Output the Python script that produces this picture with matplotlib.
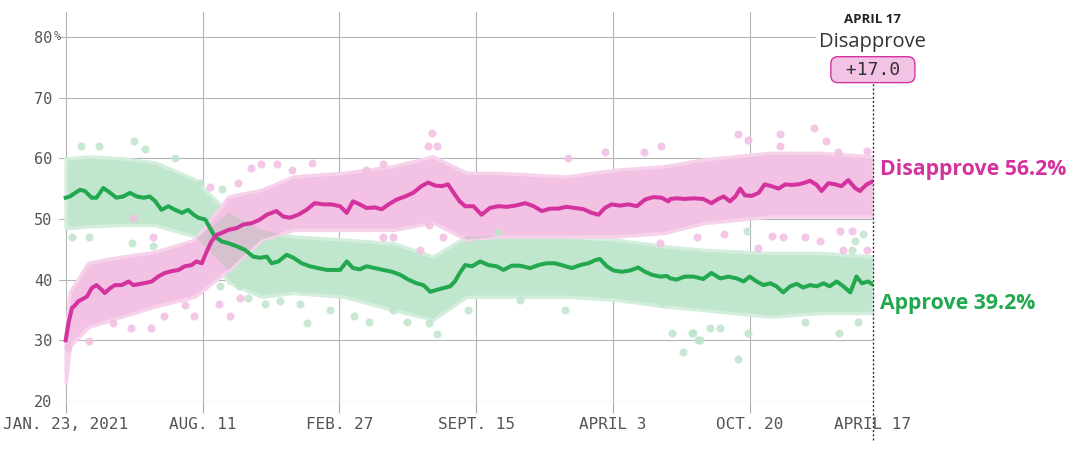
import matplotlib.pyplot as plt
import numpy as np
import pandas as pd

start = pd.Timestamp('2021-01-23')

# trend lines, days since Jan. 23, 2021
dis_day = [0, 4, 9, 14, 18, 23, 31, 38, 45, 53, 57, 65, 72, 82, 92, 99, 109, 118, 126, 135,
           145, 155, 165, 174, 184, 191, 199, 206, 213, 221, 228, 238, 250, 260, 272,
           284, 294, 308, 318, 328, 340, 352, 364, 377, 389, 401, 411, 420, 430, 440, 452,
           462, 472, 484, 496, 508, 520, 530, 540, 550, 559, 569, 576,
           584, 596, 608, 620, 632, 645, 657, 672, 684, 696, 708, 720, 732, 745, 757, 769,
           779, 788, 798, 810, 823, 835, 847, 859, 871, 881,
           884, 893, 905, 918, 932, 944, 954, 962, 971, 979, 986, 993, 1003, 1013, 1022,
           1032, 1042, 1052, 1061, 1071, 1081, 1088, 1098, 1105, 1115, 1125, 1134, 1144,
           1154, 1161, 1171, 1180]
dis_val = [30.0, 32.8, 35.3, 35.8, 36.4, 36.7, 37.2, 38.6, 39.1, 38.3, 37.8, 38.6, 39.1, 39.1,
           39.7, 39.1, 39.3, 39.5, 39.7, 40.5, 41.1, 41.4, 41.6, 42.2, 42.4, 43.0, 42.7, 44.6,
           46.3, 47.4, 47.7, 48.2, 48.5, 49.1, 49.3,
           49.9, 50.7, 51.3, 50.4, 50.2, 50.7, 51.5, 52.6, 52.4, 52.4, 52.1, 51.0, 52.9, 52.4,
           51.8, 51.9, 51.6, 52.4, 53.2, 53.7, 54.3, 55.4, 56.0, 55.5, 55.4, 55.7, 54.0, 52.9,
           52.1, 52.1, 50.7, 51.8, 52.1, 52.0, 52.2, 52.6, 52.1, 51.3, 51.7, 51.7, 52.0, 51.8,
           51.6, 51.0, 50.7, 51.8, 52.4, 52.2, 52.4, 52.1, 53.2, 53.6, 53.5, 52.9,
           53.3, 53.4, 53.3, 53.4, 53.3, 52.6, 53.3, 53.7, 52.9, 53.7, 55.0, 53.9, 53.8, 54.3,
           55.7, 55.4, 55.0, 55.7, 55.6, 55.7, 56.0, 56.3, 55.6, 54.6, 55.9, 55.7, 55.4, 56.4,
           55.1, 54.6, 55.7, 56.2]

app_day = [0, 6, 14, 21, 28, 38, 45, 55, 65, 74, 84, 94, 104, 114, 123, 131, 140, 150, 160,
           170, 179, 187, 194, 204, 211, 218, 228, 238, 250, 262, 274,
           284, 294, 301, 311, 323, 333, 345, 357, 369, 382, 394, 401, 411, 420, 430, 440,
           452, 464, 477, 489, 501, 513, 523, 533, 542, 552, 562, 569, 576,
           584, 594, 606, 618, 630, 640, 652, 664, 679, 691, 703, 715, 728, 740, 752, 764,
           774, 781, 791, 801, 813, 825, 837, 847, 857, 869, 879,
           884, 893, 905, 918, 932, 944, 957, 969, 981, 991, 1000, 1010, 1020, 1030, 1039,
           1049, 1059, 1069, 1078, 1088, 1098, 1108, 1117, 1127, 1137, 1147, 1156, 1164,
           1173, 1180]
app_val = [53.5, 53.7, 54.3, 54.8, 54.6, 53.5, 53.5, 55.1, 54.3, 53.5, 53.7, 54.3, 53.7, 53.5,
           53.7, 52.9, 51.5, 52.1, 51.5, 51.0, 51.5, 50.7, 50.2, 49.9, 48.5, 47.1, 46.3, 46.0,
           45.5, 44.9, 43.8,
           43.6, 43.8, 42.7, 43.0, 44.1, 43.6, 42.7, 42.2, 41.9, 41.6, 41.6, 41.6, 43.0, 41.9,
           41.7, 42.2, 41.9, 41.6, 41.3, 40.8, 40.0, 39.4, 39.1, 38.0, 38.3, 38.6, 38.9, 39.7,
           41.1,
           42.4, 42.2, 43.0, 42.4, 42.2, 41.6, 42.3, 42.3, 41.9, 42.4, 42.7, 42.7, 42.3, 41.9,
           42.4, 42.7, 43.2, 43.4, 42.2, 41.5, 41.3, 41.5, 42.0, 41.3, 40.8, 40.5, 40.6,
           40.2, 40.0, 40.5, 40.5, 40.1, 41.1, 40.2, 40.5, 40.2, 39.7, 40.5, 39.7, 39.1, 39.4,
           38.9, 37.9, 38.9, 39.3, 38.7, 39.1, 38.9, 39.4, 38.9, 39.7, 38.9, 37.9, 40.5, 39.4,
           39.7, 39.2]

# spread of the polls around each line
band_day = [0, 6, 33, 82, 131, 189, 238, 286, 333, 406, 479, 537, 586, 632, 730, 803, 876,
            932, 1030, 1103, 1180]
dis_lo = [23.0, 29.0, 32.2, 33.9, 35.6, 37.2, 41.6, 46.6, 48.2, 48.2, 48.2, 49.4, 46.6, 47.1,
          47.1, 47.1, 47.7, 49.3, 50.4, 50.4, 50.4]
dis_hi = [31.0, 38.0, 42.8, 43.8, 44.6, 46.6, 53.7, 54.8, 57.0, 57.6, 58.7, 60.3, 57.6, 57.6,
          57.0, 58.1, 58.7, 59.8, 60.9, 60.9, 60.3]
app_lo = [48.5, 48.5, 48.8, 49.0, 49.0, 47.1, 39.5, 37.2, 37.8, 37.2, 35.0, 33.4, 37.2, 37.2,
          37.2, 36.7, 35.6, 35.0, 33.9, 34.5, 34.5]
app_hi = [60.0, 60.0, 60.3, 60.0, 59.3, 56.5, 51.0, 48.2, 47.1, 46.6, 46.0, 43.8, 47.1, 47.1,
          47.1, 46.6, 45.5, 44.9, 44.4, 44.4, 43.8]

# individual polls that stand out of the pack
dis_poll_day = [3, 34, 69, 96, 125, 144, 175, 187, 224, 240, 255, 271, 286, 309, 331, 360, 252,
                211, 98, 127, 177, 536, 530, 543, 464, 439, 735, 789, 846, 870, 531, 552, 518,
                479, 464, 869, 923, 1094, 983, 997, 1044, 1044, 1112, 1129, 1172, 1032, 1048,
                1081, 1103, 1132, 1150, 1136, 1172, 1012, 963]
dis_poll_val = [28.9, 29.9, 32.8, 32.0, 32.0, 34.0, 35.8, 34.0, 36.0, 34.0, 37.0, 58.4, 59.0,
                59.1, 58.0, 59.3, 56.0, 55.2, 50.2, 47.0, 45.3, 64.1, 62.0, 62.0, 59.0, 58.0,
                60.0, 61.0, 61.0, 62.0, 49.0, 47.0, 44.9, 47.0, 47.0, 46.0, 47.0, 65.0, 64.0,
                63.0, 64.0, 62.0, 62.8, 61.0, 61.2, 47.2, 47.0, 47.0, 46.3, 48.0, 48.0, 44.9,
                44.9, 45.2, 47.6]
app_poll_day = [100, 23, 49, 116, 160, 197, 229, 9, 34, 97, 127, 254, 226, 267, 291, 313, 343,
                353, 387, 421, 444, 499, 531, 543, 479, 588, 664, 730, 872, 886, 917, 924, 632,
                601, 902, 915, 927, 942, 956, 983, 998, 1130, 1081, 1158, 996, 1154, 1166, 1150,
                942]
app_poll_val = [62.8, 62.0, 62.0, 61.6, 60.0, 56.0, 55.0, 47.0, 47.0, 46.0, 45.5, 39.0, 39.0,
                37.0, 36.0, 36.4, 36.0, 32.9, 35.0, 34.0, 33.0, 33.0, 32.8, 31.0, 35.0, 35.0,
                36.6, 35.0, 36.1, 31.2, 31.2, 30.0, 47.9, 46.0, 28.0, 31.2, 30.0, 32.0, 32.0,
                27.0, 31.2, 31.2, 33.0, 33.0, 48.0, 46.3, 47.6, 44.9, 43.8]

tick_dates = ['2021-01-23', '2021-08-11', '2022-02-27', '2022-09-15', '2023-04-03',
              '2023-10-20', '2024-04-17']
tick_labels = ['JAN. 23, 2021', 'AUG. 11', 'FEB. 27', 'SEPT. 15', 'APRIL 3', 'OCT. 20',
               'APRIL 17']
y_ticks = [20, 30, 40, 50, 60, 70, 80]

PINK = '#d4339e'
GREEN = '#22a84f'
PINK_BAND = '#f2c1e3'
GREEN_BAND = '#c0e6cd'


def to_date(days):
    return start + pd.to_timedelta(np.asarray(days), unit='D')


fig = plt.figure(figsize=(10.8, 4.62), dpi=100)
ax = fig.add_axes([0.0545, 0.132, 0.7537, 0.842])

bd = to_date(band_day)
ax.fill_between(bd, app_lo, app_hi, color=GREEN_BAND, ec='#d3eedc', lw=2.5, zorder=1)
ax.fill_between(bd, dis_lo, dis_hi, color=PINK_BAND, ec='#f6d3eb', lw=2.5, zorder=1)
ov_lo = np.maximum(dis_lo, app_lo)
ov_hi = np.minimum(dis_hi, app_hi)
ax.fill_between(bd, ov_lo, ov_hi, where=ov_hi > ov_lo, interpolate=True,
                color='#d6c1cf', lw=0, zorder=1)

ax.scatter(to_date(app_poll_day), app_poll_val, s=34, color='#bfe5cc', alpha=0.85,
           lw=0, zorder=2)
ax.scatter(to_date(dis_poll_day), dis_poll_val, s=34, color='#f2bfe2', alpha=0.85,
           lw=0, zorder=2)

ax.plot(to_date(app_day), app_val, color=GREEN, lw=2.9, zorder=4, solid_joinstyle='round')
ax.plot(to_date(dis_day), dis_val, color=PINK, lw=2.9, zorder=5, solid_joinstyle='round')

end = pd.Timestamp(tick_dates[-1])
ax.set_xlim(start - pd.Timedelta(days=10), end)
ax.set_ylim(20, 84.1)

ax.set_xticks(pd.to_datetime(tick_dates))
ax.set_xticklabels(tick_labels, family='DejaVu Sans Mono', fontsize=11.5, color='#555555')
ax.set_yticks(y_ticks)
ax.set_yticklabels([str(v) for v in y_ticks], family='DejaVu Sans Mono', fontsize=11,
                   color='#555555')
ax.tick_params(axis='x', length=8.6, width=0.8, color='#aaaaaa', pad=3)
ax.tick_params(axis='y', length=0, pad=4.5)
ax.grid(True, color='#b4b4b4', lw=0.8, zorder=0)
ax.set_axisbelow(True)
ax.get_xgridlines()[-1].set_visible(False)
ax.xaxis.get_major_ticks()[-1].tick1line.set_visible(False)
for s in ax.spines.values():
    s.set_visible(False)

ax.text(-0.0065, 80, '%', transform=ax.get_yaxis_transform(), ha='left', va='center',
        family='DejaVu Sans Mono', fontsize=8.5, color='#555555')

# current-day marker
ax.plot([end, end], [13.5, 72.4], color='#333333', lw=1, ls=(0, (1.5, 1.5)),
        clip_on=False, zorder=6)
ax.text(end, 82.8, 'APRIL 17', ha='center', va='center', family='Open Sans', weight='bold',
        fontsize=9.5, color='#222222', clip_on=False)
ax.text(end, 79.2, 'Disapprove', ha='center', va='center', family='Open Sans', fontsize=14.5,
        color='#333333', clip_on=False, zorder=7,
        bbox=dict(boxstyle='square,pad=0.15', fc='white', ec='none'))
margin = dis_val[-1] - app_val[-1]
ax.text(end, 74.6, f' +{margin:.1f} ', ha='center', va='center', family='DejaVu Sans Mono',
        fontsize=13, color='#333333', clip_on=False, zorder=7,
        bbox=dict(boxstyle='round,pad=0.22,rounding_size=0.4', fc='#f3c3e5', ec=PINK, lw=1))

ax.annotate(f'Disapprove {dis_val[-1]:.1f}%', xy=(end, 58.2), xytext=(5, 0),
            textcoords='offset points', ha='left', va='center', family='Open Sans',
            weight='bold', fontsize=15.3, color=PINK, annotation_clip=False)
ax.annotate(f'Approve {app_val[-1]:.1f}%', xy=(end, 36.0), xytext=(5, 0),
            textcoords='offset points', ha='left', va='center', family='Open Sans',
            weight='bold', fontsize=15.3, color=GREEN, annotation_clip=False)

fig.savefig('out.png', dpi=100)
